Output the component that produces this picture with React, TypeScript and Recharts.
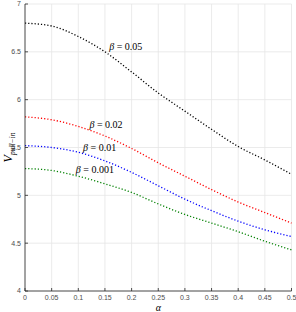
import React from 'react';
import { LineChart, Line, XAxis, YAxis, CartesianGrid, ReferenceDot } from 'recharts';

const alphaValues = [0, 0.05, 0.1, 0.15, 0.2, 0.25, 0.3, 0.35, 0.4, 0.45, 0.5];
const beta005 = [6.8, 6.77, 6.66, 6.5, 6.29, 6.07, 5.88, 5.69, 5.51, 5.37, 5.22];
const beta002 = [5.82, 5.79, 5.72, 5.62, 5.49, 5.34, 5.2, 5.06, 4.93, 4.82, 4.71];
const beta001 = [5.52, 5.5, 5.45, 5.36, 5.24, 5.1, 4.96, 4.84, 4.73, 4.64, 4.57];
const beta0001 = [5.28, 5.26, 5.2, 5.12, 5.03, 4.91, 4.8, 4.71, 4.62, 4.52, 4.43];

const xTicks = [0, 0.05, 0.1, 0.15, 0.2, 0.25, 0.3, 0.35, 0.4, 0.45, 0.5];
const xTickLabels = ['0', '0.05', '0.1', '0.15', '0.2', '0.25', '0.3', '0.35', '0.4', '0.45', '0.5'];
const yTicks = [4, 4.5, 5, 5.5, 6, 6.5, 7];
const yTickLabels = ['4', '4.5', '5', '5.5', '6', '6.5', '7'];

const seriesNames = ['0.05', '0.02', '0.01', '0.001'];
const labelAnchors = [
  { name: '0.05', alpha: 0.189, v: 6.556 },
  { name: '0.02', alpha: 0.152, v: 5.74 },
  { name: '0.01', alpha: 0.14, v: 5.495 },
  { name: '0.001', alpha: 0.131, v: 5.265 },
];

const data = alphaValues.map((a, i) => ({
  alpha: a,
  b005: beta005[i],
  b002: beta002[i],
  b001: beta001[i],
  b0001: beta0001[i],
}));

const AX = '#262626';
const TICKFONT = 'Liberation Sans, Arial, sans-serif';
const SERIF = 'Liberation Serif, Times New Roman, serif';

const fmtX = (v: number) => {
  const i = xTicks.findIndex((t) => Math.abs(t - v) < 1e-9);
  return i >= 0 ? xTickLabels[i] : String(v);
};
const fmtY = (v: number) => {
  const i = yTicks.findIndex((t) => Math.abs(t - v) < 1e-9);
  return i >= 0 ? yTickLabels[i] : String(v);
};

const BottomTick = (props: any) => {
  const { x, y, payload } = props;
  const base = y - 4;
  return (
    <g>
      <line x1={x} y1={base} x2={x} y2={base - 3} stroke={AX} strokeWidth={0.8} />
      <text x={x} y={y} dy="0.71em" textAnchor="middle" fontSize={7} fill="#4d4d4d" fontFamily={TICKFONT}>
        {fmtX(payload.value)}
      </text>
    </g>
  );
};

const TopTick = (props: any) => {
  const { x, y } = props;
  return <line x1={x} y1={y} x2={x} y2={y + 3} stroke={AX} strokeWidth={0.8} />;
};

const LeftTick = (props: any) => {
  const { x, y, payload } = props;
  const base = x + 4;
  return (
    <g>
      <line x1={base} y1={y} x2={base + 3} y2={y} stroke={AX} strokeWidth={0.8} />
      <text x={x} y={y} dy="0.35em" textAnchor="end" fontSize={7} fill="#4d4d4d" fontFamily={TICKFONT}>
        {fmtY(payload.value)}
      </text>
    </g>
  );
};

const RightTick = (props: any) => {
  const { x, y } = props;
  return <line x1={x} y1={y} x2={x - 3} y2={y} stroke={AX} strokeWidth={0.8} />;
};

const YLabel = (props: any) => {
  const vb = props.viewBox || {};
  const cx = 8;
  const cy = vb.y + vb.height / 2;
  return (
    <text
      x={cx}
      y={cy}
      transform={`rotate(-90, ${cx}, ${cy})`}
      textAnchor="middle"
      fontFamily={SERIF}
      fill="#000"
    >
      <tspan fontStyle="italic" fontSize={12} dy="0.35em">V</tspan>
      <tspan fontStyle="italic" fontSize={7.5} dy="2.5">pull−in</tspan>
    </text>
  );
};

const XLabel = (props: any) => {
  const vb = props.viewBox || {};
  const cx = vb.x + vb.width / 2;
  return (
    <text x={cx} y={311} textAnchor="middle" fontFamily={SERIF} fontStyle="italic" fontSize={10} fill="#000">
      α
    </text>
  );
};

const BetaLabel = (name: string) => (props: any) => {
  const vb = props.viewBox || {};
  const cx = vb.x + (vb.width || 0) / 2;
  const cy = vb.y + (vb.height || 0) / 2;
  return (
    <text x={cx} y={cy} dy="0.35em" textAnchor="middle" fontFamily={SERIF} fontSize={10} fill="#000">
      <tspan fontStyle="italic">β</tspan>
      <tspan> = {name}</tspan>
    </text>
  );
};

const colors = ['#000000', '#ff0000', '#0000ff', '#008000'];
const keys = ['b005', 'b002', 'b001', 'b0001'];

export default function App() {
  return (
    <div style={{ position: 'absolute', left: 0, top: 0, width: 296, height: 312, background: '#fff' }}>
      <LineChart width={296} height={312} data={data} margin={{ top: 4, right: 4.5, left: 0, bottom: 0 }}>
        <CartesianGrid stroke="#e6e6e6" strokeWidth={0.8} />
        <XAxis
          dataKey="alpha"
          type="number"
          domain={[0, 0.5]}
          ticks={xTicks}
          height={21}
          tickSize={0}
          tickMargin={4}
          tick={<BottomTick />}
          axisLine={{ stroke: AX, strokeWidth: 0.8 }}
          interval={0}
          label={<XLabel />}
        />
        <XAxis
          xAxisId="top"
          orientation="top"
          dataKey="alpha"
          type="number"
          domain={[0, 0.5]}
          ticks={xTicks}
          height={0}
          tickSize={0}
          tickMargin={0}
          tick={<TopTick />}
          axisLine={{ stroke: AX, strokeWidth: 0.8 }}
          interval={0}
        />
        <YAxis
          type="number"
          domain={[4, 7]}
          ticks={yTicks}
          width={25}
          tickSize={0}
          tickMargin={4}
          tick={<LeftTick />}
          axisLine={{ stroke: AX, strokeWidth: 0.8 }}
          interval={0}
          label={<YLabel />}
        />
        <YAxis
          yAxisId="right"
          orientation="right"
          type="number"
          domain={[4, 7]}
          ticks={yTicks}
          width={0}
          tickSize={0}
          tickMargin={0}
          tick={<RightTick />}
          axisLine={{ stroke: AX, strokeWidth: 0.8 }}
          interval={0}
        />
        {keys.map((k, i) => (
          <Line
            key={k}
            dataKey={k}
            name={seriesNames[i]}
            type="monotone"
            stroke={colors[i]}
            strokeWidth={1.3}
            strokeDasharray="1.2 2"
            dot={false}
            activeDot={false}
            isAnimationActive={false}
          />
        ))}
        {labelAnchors.map((l) => (
          <ReferenceDot key={l.name} x={l.alpha} y={l.v} r={0} fill="none" stroke="none" label={BetaLabel(l.name)} />
        ))}
      </LineChart>
    </div>
  );
}
